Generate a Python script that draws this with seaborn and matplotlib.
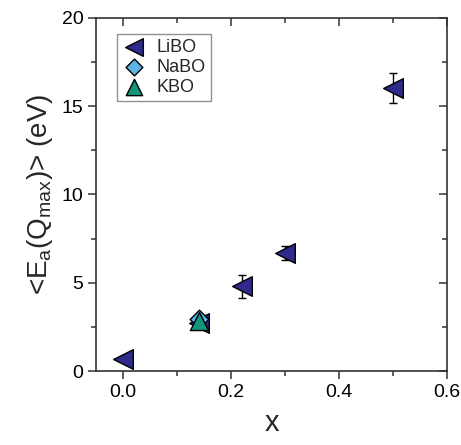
import matplotlib
matplotlib.use("Agg")
import matplotlib.pyplot as plt
import seaborn as sns
import pandas as pd
from matplotlib.ticker import MultipleLocator

# data
li_x = [0.0, 0.14, 0.22, 0.30, 0.50]
li_y = [0.7, 2.7, 4.8, 6.7, 16.05]
li_err = [0.1, 0.25, 0.65, 0.4, 0.85]
na_x = [0.14]
na_y = [2.95]
k_x = [0.14]
k_y = [2.85]
series_names = ["LiBO", "NaBO", "KBO"]

sns.set_theme(style="white")
plt.rcParams['font.family'] = ['Liberation Sans', 'DejaVu Sans']
plt.rcParams['mathtext.fontset'] = 'custom'
plt.rcParams['mathtext.rm'] = 'Liberation Sans'

df = pd.DataFrame({
    "x": li_x + na_x + k_x,
    "y": li_y + na_y + k_y,
    "sample": ["LiBO"] * len(li_x) + ["NaBO"] * len(na_x) + ["KBO"] * len(k_x),
})

fig = plt.figure(figsize=(4.61, 4.45), dpi=100)
ax = fig.add_axes([0.208, 0.166, 0.762, 0.794])

ax.errorbar(li_x, li_y, yerr=li_err, fmt="none", ecolor="black", elinewidth=1.0,
            capsize=3, capthick=1.0, zorder=1)

palette = {"LiBO": "#2f2a8c", "NaBO": "#5bb3e6", "KBO": "#12957a"}
markers = {"LiBO": "<", "NaBO": "D", "KBO": "^"}
sizes = {"LiBO": 200, "NaBO": 90, "KBO": 170}
for name in series_names:
    sub = df[df["sample"] == name]
    sns.scatterplot(data=sub, x="x", y="y", ax=ax, color=palette[name],
                    marker=markers[name], s=sizes[name], edgecolor="black",
                    linewidth=1.0, label=name, zorder=3)

ax.set_xlim(-0.05, 0.6)
ax.set_ylim(0, 20)
ax.xaxis.set_major_locator(MultipleLocator(0.2))
ax.xaxis.set_minor_locator(MultipleLocator(0.1))
ax.yaxis.set_major_locator(MultipleLocator(5))
ax.yaxis.set_minor_locator(MultipleLocator(2.5))
ax.set_xticks([0.0, 0.2, 0.4, 0.6])
ax.set_xticklabels(["0.0", "0.2", "0.4", "0.6"])

for s in ax.spines.values():
    s.set_color("#333333")
    s.set_linewidth(1.2)

ax.tick_params(which="major", direction="out", length=6, width=1.1, labelsize=14,
               bottom=True, left=True, top=False, right=False, colors="#333333",
               labelcolor="black", pad=3)
ax.tick_params(which="minor", direction="out", length=3.5, width=1.1,
               bottom=True, left=True, top=False, right=False, colors="#333333")
# mirrored inward ticks on top/right
axt = ax.secondary_xaxis("top")
axt.xaxis.set_major_locator(MultipleLocator(0.2))
axt.xaxis.set_minor_locator(MultipleLocator(0.1))
axt.tick_params(which="major", direction="in", length=6, width=1.1, labeltop=False, colors="#333333")
axt.tick_params(which="minor", direction="in", length=3.5, width=1.1, colors="#333333")
axt.spines["top"].set_visible(False)
axr = ax.secondary_yaxis("right")
axr.yaxis.set_major_locator(MultipleLocator(5))
axr.yaxis.set_minor_locator(MultipleLocator(2.5))
axr.tick_params(which="major", direction="in", length=6, width=1.1, labelright=False, colors="#333333")
axr.tick_params(which="minor", direction="in", length=3.5, width=1.1, colors="#333333")
axr.spines["right"].set_visible(False)

ax.set_xlabel("x", fontsize=21, labelpad=6)
ax.set_ylabel(r"<E$_\mathregular{a}$(Q$_\mathregular{max}$)> (eV)", fontsize=20, labelpad=5)

leg = ax.legend(loc="upper left", bbox_to_anchor=(0.06, 0.955), fontsize=13,
                frameon=True, fancybox=False, edgecolor="#777777",
                handletextpad=0.6, borderpad=0.3, labelspacing=0.15,
                handlelength=1.3, markerscale=0.9, borderaxespad=0)
leg.get_frame().set_linewidth(1.0)

fig.savefig("out.png", dpi=100)
